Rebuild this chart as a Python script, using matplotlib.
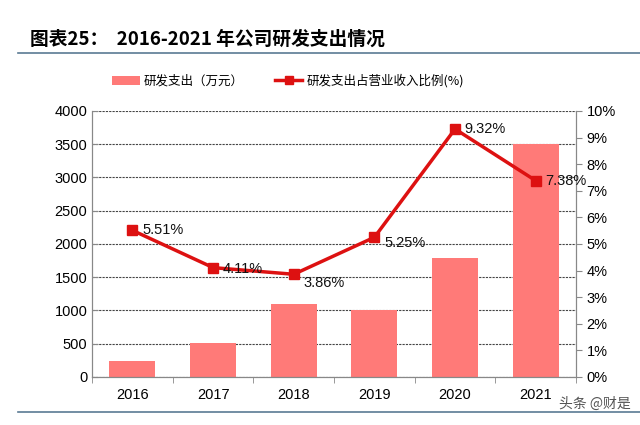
import matplotlib
matplotlib.use("Agg")
import matplotlib.pyplot as plt
from matplotlib.lines import Line2D
from matplotlib.patches import Patch
import numpy as np

plt.rcParams['font.family'] = ['Liberation Sans', 'Noto Sans CJK SC', 'DejaVu Sans']

years = ['2016', '2017', '2018', '2019', '2020', '2021']
rd_spend = [240, 510, 1090, 1000, 1790, 3510]
rd_ratio = [5.51, 4.11, 3.86, 5.25, 9.32, 7.38]
ratio_labels = ['5.51%', '4.11%', '3.86%', '5.25%', '9.32%', '7.38%']
left_ticks = [0, 500, 1000, 1500, 2000, 2500, 3000, 3500, 4000]
right_ticks = list(range(0, 11))

bar_color = '#FF7A78'
line_color = '#DD1111'

fig = plt.figure(figsize=(6.4, 4.25), dpi=100)
ax = fig.add_axes([0.144, 0.113, 0.756, 0.626])
x = np.arange(len(years))
ax.bar(x, rd_spend, width=0.57, color=bar_color, zorder=2)
ax.set_xlim(-0.5, len(years) - 0.5)
ax.set_ylim(0, 4000)
ax.set_yticks(left_ticks)
ax.set_yticklabels([str(v) for v in left_ticks], fontsize=10.5)
ax.set_xticks(x)
ax.set_xticklabels(years, fontsize=10.5)
ax.set_xticks(np.arange(-0.5, len(years)), minor=True)
ax.tick_params(axis='x', which='major', length=0, pad=8)
ax.tick_params(axis='x', which='minor', length=4, color='#888888', direction='out')
ax.tick_params(axis='y', length=4, color='#888888', direction='in')
ax.grid(axis='y', color='#444444', linestyle=(0, (2, 1)), linewidth=0.8, zorder=0)
ax.spines['top'].set_visible(False)
for s in ['left', 'right', 'bottom']:
    ax.spines[s].set_color('#888888')

ax2 = ax.twinx()
ax2.plot(x, rd_ratio, color=line_color, linewidth=2.5, marker='s', markersize=7, zorder=3)
ax2.set_ylim(0, 10)
ax2.set_yticks(right_ticks)
ax2.set_yticklabels([f'{v}%' for v in right_ticks], fontsize=10.5)
ax2.tick_params(axis='y', length=4, color='#888888', direction='out')
ax2.spines['top'].set_visible(False)
for s in ['left', 'right', 'bottom']:
    ax2.spines[s].set_color('#888888')

offsets = [(7, 0), (7, -1), (7, -6), (7, -4), (7, 0), (7, 0)]
for xi, yi, lab, off in zip(x, rd_ratio, ratio_labels, offsets):
    ax2.annotate(lab, (xi, yi), xytext=off, textcoords='offset points',
                 ha='left', va='center', fontsize=10.5, color='#111111')

# Title
fig.text(0.047, 0.908, '图表25：  2016-2021 年公司研发支出情况',
         fontsize=13.5, fontweight='bold', family=['Noto Sans CJK SC', 'DejaVu Sans'],
         va='center', ha='left')
fig.add_artist(Line2D([0.028, 1.0], [0.875, 0.875], color='#5A7A93', linewidth=1.2))
fig.add_artist(Line2D([0.028, 1.0], [0.03, 0.03], color='#5A7A93', linewidth=1.2))

# Legend
handles = [Patch(facecolor=bar_color, edgecolor='none'),
           Line2D([0], [0], color=line_color, linewidth=2.5, marker='s', markersize=6)]
labels = ['研发支出（万元）', '研发支出占营业收入比例(%)']
fig.legend(handles, labels, loc='center', bbox_to_anchor=(0.45, 0.81), ncol=2,
           frameon=False, prop={'family': ['Noto Sans CJK SC', 'DejaVu Sans'], 'size': 9},
           handlelength=2.2, handletextpad=0.3, columnspacing=2.5)

# Watermark
fig.text(0.985, 0.05, '头条 @财是', fontsize=10, color='#555555', ha='right', va='center',
         family=['Noto Sans CJK SC', 'DejaVu Sans'])

fig.savefig('out.png', dpi=100)
